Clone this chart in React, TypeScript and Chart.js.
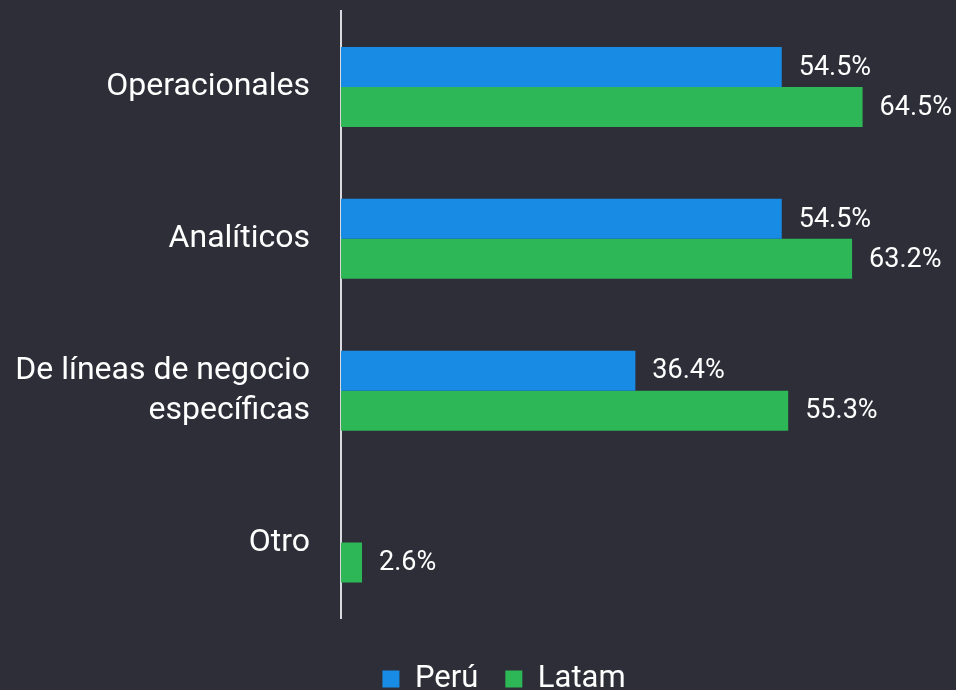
import React, { useEffect, useRef } from "react";
import { Chart, registerables } from "chart.js";

Chart.register(...registerables);

const categories: (string | string[])[] = [
  "Operacionales",
  "Analíticos",
  ["De líneas de negocio", "específicas"],
  "Otro",
];
const peruValues: (number | null)[] = [54.5, 54.5, 36.4, null];
const latamValues: (number | null)[] = [64.5, 63.2, 55.3, 2.6];
const seriesNames = ["Perú", "Latam"];
const seriesColors = ["#188ce5", "#2db757"];

const BG = "#2e2e38";
const FONT = "Roboto";

const valueLabels = {
  id: "valueLabels",
  afterDatasetsDraw(chart: any) {
    const ctx = chart.ctx;
    ctx.save();
    ctx.font = `27px ${FONT}`;
    ctx.fillStyle = "#ffffff";
    ctx.textAlign = "left";
    ctx.textBaseline = "middle";
    chart.data.datasets.forEach((ds: any, di: number) => {
      const meta = chart.getDatasetMeta(di);
      meta.data.forEach((bar: any, i: number) => {
        const v = ds.data[i];
        if (v === null || v === undefined) return;
        ctx.fillText(v.toFixed(1) + "%", bar.x + 17, bar.y + 1);
      });
    });
    ctx.restore();
  },
};

export default function App() {
  const ref = useRef<HTMLCanvasElement>(null);
  useEffect(() => {
    document.body.style.margin = "0";
    document.body.style.background = BG;
    const chart = new Chart(ref.current!, {
      type: "bar",
      data: {
        labels: categories,
        datasets: [
          {
            label: seriesNames[0],
            data: peruValues,
            backgroundColor: seriesColors[0],
            categoryPercentage: 80 / 152,
            barPercentage: 1,
          },
          {
            label: seriesNames[1],
            data: latamValues,
            backgroundColor: seriesColors[1],
            categoryPercentage: 80 / 152,
            barPercentage: 1,
          },
        ],
      },
      options: {
        indexAxis: "y",
        animation: false,
        responsive: false,
        layout: { padding: { top: 11, right: -52, bottom: -14.5, left: 0 } },
        scales: {
          x: {
            display: true,
            min: 0,
            max: 76.05,
            ticks: { display: false },
            grid: { display: false },
            border: { display: false },
            afterFit: (s: any) => {
              s.height = 18;
            },
          },
          y: {
            grid: { display: false, drawTicks: false },
            border: { display: true, color: "#d9d9de", width: 2 },
            ticks: {
              color: "#ffffff",
              padding: 31,
              font: { family: FONT, size: 32, lineHeight: 1.24 },
            },
            afterFit: (s: any) => {
              s.width = 341;
              s.paddingTop = 0;
              s.paddingBottom = 0;
            },
          },
        },
        plugins: {
          legend: {
            position: "bottom",
            labels: {
              color: "#ffffff",
              boxWidth: 17,
              boxHeight: 17,
              padding: 27,
              font: { family: FONT, size: 31 },
            },
          },
          tooltip: { enabled: false },
        },
      },
      plugins: [valueLabels],
    });
    return () => chart.destroy();
  }, []);
  return (
    <div style={{ position: "absolute", left: 0, top: 0, width: 956, height: 690, background: BG }}>
      <canvas ref={ref} width={956} height={690} style={{ display: "block" }} />
    </div>
  );
}
